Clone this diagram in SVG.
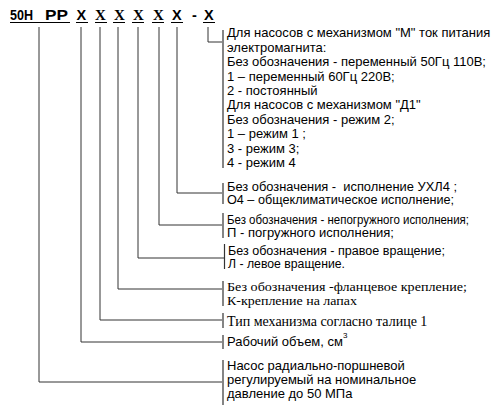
<svg xmlns="http://www.w3.org/2000/svg" width="498" height="407" viewBox="0 0 498 407">
<style>
.hd{font-family:"Liberation Sans",Arial,sans-serif;font-weight:bold;font-size:14.5px;fill:#000}
.hs{font-family:"Liberation Serif","Times New Roman",serif;font-weight:bold;font-size:15px;fill:#000}
.t{font-family:"Liberation Sans",Arial,sans-serif;font-size:13px;fill:#000}
.m{font-family:"Liberation Sans",Arial,sans-serif;font-size:12.5px;fill:#000}
.s{font-family:"Liberation Serif","Times New Roman",serif;font-size:12.5px;fill:#000}
.s14{font-family:"Liberation Serif","Times New Roman",serif;font-size:14px;fill:#000}
.ul{stroke:#000;stroke-width:1.2;fill:none}
.c{stroke:#333;stroke-width:1;fill:none}
.b{stroke:#333;stroke-width:1.2;fill:none}
</style>
<rect width="498" height="407" fill="#fff"/>
<g id="header">
<text class="hd" x="10" y="20" textLength="23" lengthAdjust="spacingAndGlyphs">50H</text>
<text class="hd" x="45" y="20" textLength="23" lengthAdjust="spacingAndGlyphs">PP</text>
<text class="hd" x="76.5" y="20">X</text>
<text class="hs" x="95" y="20">X</text>
<text class="hs" x="114" y="20">X</text>
<text class="hs" x="133" y="20">X</text>
<text class="hs" x="153" y="20">X</text>
<text class="hd" x="172" y="20">X</text>
<text class="hd" x="192" y="20">-</text>
<text class="hd" x="204" y="20">X</text>
<path class="ul" d="M10 22.5H70M76 22.5H88M95 22.5H107M113 22.5H125M132 22.5H144M152 22.5H164M171 22.5H183M203 22.5H215"/>
</g>
<g id="connectors">
<path class="c" d="M39 27V382H222"/>
<path class="c" d="M81 27V342H222"/>
<path class="c" d="M100 27V320H222"/>
<path class="c" d="M118 27V289H222"/>
<path class="c" d="M138 27V258H224"/>
<path class="c" d="M159 27V225H222"/>
<path class="c" d="M177 27V193H222"/>
<path class="c" d="M208 27V42H222"/>
</g>
<g id="n7">
<path class="b" d="M223 30V168"/>
<text class="t" x="227" y="37">Для насосов с механизмом "М" ток питания</text>
<text class="t" x="227" y="51.5">электромагнита:</text>
<text class="t" x="227" y="66">Без обозначения - переменный 50Гц 110В;</text>
<text class="t" x="227" y="80.5">1 – переменный 60Гц 220В;</text>
<text class="t" x="227" y="95">2 - постоянный</text>
<text class="t" x="227" y="109">Для насосов с механизмом "Д1"</text>
<text class="t" x="227" y="123.5">Без обозначения - режим 2;</text>
<text class="t" x="227" y="138">1 – режим 1 ;</text>
<text class="t" x="227" y="152.5">3 - режим 3;</text>
<text class="t" x="227" y="167">4 - режим 4</text>
</g>
<g id="n6">
<path class="b" d="M223 183V204"/>
<text class="m" x="227" y="191" xml:space="preserve" textLength="230" lengthAdjust="spacingAndGlyphs">Без обозначения -  исполнение УХЛ4 ;</text>
<text class="m" x="227" y="204" textLength="227" lengthAdjust="spacingAndGlyphs">О4 – общеклиматическое исполнение;</text>
</g>
<g id="n5">
<path class="b" d="M223 213V238"/>
<text class="m" x="227" y="224" textLength="242" lengthAdjust="spacingAndGlyphs">Без обозначения - непогружного исполнения;</text>
<text class="m" x="227" y="237" textLength="167" lengthAdjust="spacingAndGlyphs">П - погружного исполнения;</text>
</g>
<g id="n4">
<path class="b" d="M224.5 244V269"/>
<text class="m" x="228" y="255" textLength="217" lengthAdjust="spacingAndGlyphs">Без обозначения - правое вращение;</text>
<text class="m" x="228" y="268" textLength="117" lengthAdjust="spacingAndGlyphs">Л - левое вращение.</text>
</g>
<g id="n3">
<path class="b" d="M223 281V306"/>
<text class="s" x="227" y="291" textLength="240" lengthAdjust="spacingAndGlyphs">Без обозначения -фланцевое крепление;</text>
<text class="s" x="227" y="305" textLength="130" lengthAdjust="spacingAndGlyphs">К-крепление на лапах</text>
</g>
<g id="n2">
<path class="b" d="M223 313V328"/>
<text class="s14" x="227" y="326">Тип механизма согласно талице 1</text>
</g>
<g id="n1">
<path class="b" d="M223 335V349"/>
<text class="t" x="227" y="346">Рабочий объем, см<tspan font-size="8" dy="-8">3</tspan></text>
</g>
<g id="n0">
<path class="b" d="M223 360V405"/>
<text class="t" x="227" y="370">Насос радиально-поршневой</text>
<text class="t" x="227" y="384">регулируемый на номинальное</text>
<text class="t" x="227" y="398">давление до 50 МПа</text>
</g>
</svg>
